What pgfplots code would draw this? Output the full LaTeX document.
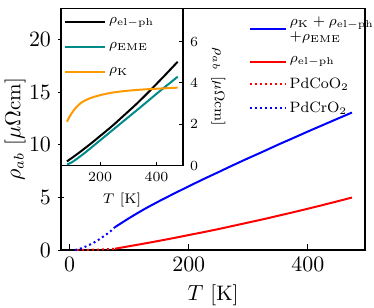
\documentclass[border=0pt]{standalone}
\usepackage{pgfplots}
\pgfplotsset{compat=1.18}
\definecolor{tealc}{RGB}{0,139,139}
\definecolor{orngc}{RGB}{255,153,0}
\begin{document}
\begin{tikzpicture}
\path[use as bounding box] (-30.5pt,-28.5pt) rectangle (156.5pt,125pt);
\begin{axis}[
  at={(0pt,0pt)}, anchor=south west,
  scale only axis, width=152pt, height=120.85pt,
  xmin=-14.6, xmax=496, ymin=0, ymax=22.95,
  xtick={0,200,400}, ytick={0,5,10,15,20},
  xtick pos=bottom, ytick pos=left,
  xtick align=inside, ytick align=center,
  major tick length=3pt,
  tick style={black, line width=0.5pt},
  axis line style={line width=0.6pt},
  tick label style={font=\fontsize{10.5}{12}\selectfont},
  every axis x label/.style={at={(axis description cs:0.5,0)}, anchor=north, yshift=-14pt, font=\fontsize{10.5}{12}\selectfont},
  every axis y label/.style={at={(axis description cs:-0.151,0.5)}, anchor=center, rotate=90, font=\fontsize{10.5}{12}\selectfont},
  xlabel={$T$ [K]}, ylabel={$\rho_{ab}$ [$\mu\Omega$cm]},
  legend style={at={(axis description cs:0.616,0.997)}, anchor=north west, draw=none, fill=none, inner sep=0pt,
    font=\fontsize{7.5}{9}\selectfont, nodes={inner sep=1.5pt, text depth=}, row sep=2.6pt},
  legend cell align=left,
  legend image code/.code={\draw[#1] (0pt,0pt) -- (15pt,0pt); \path (15pt,0pt) -- (18pt,0pt);},
]
\addplot[blue, line width=1pt, smooth] coordinates {
(76,2.17) (100,3.03) (125,3.87) (150,4.63) (175,5.35) (200,6.05) (225,6.74) (250,7.40) (275,8.07) (300,8.72) (325,9.35) (350,10.00) (375,10.62) (400,11.25) (425,11.86) (450,12.47) (474,13.05)};
\addlegendentry{\begin{tabular}{@{}l@{}}$\rho_{\mathrm{K}}+\rho_{\mathrm{el-ph}}$\\[-1.5pt]$+\rho_{\mathrm{EME}}$\end{tabular}}
\addplot[red, line width=1pt, smooth] coordinates {
(76,0.12) (100,0.36) (125,0.61) (150,0.87) (175,1.14) (200,1.42) (225,1.70) (250,1.99) (275,2.30) (300,2.61) (325,2.92) (350,3.25) (375,3.58) (400,3.92) (425,4.27) (450,4.63) (474,4.98)};
\addlegendentry{$\rho_{\mathrm{el-ph}}$}
\addplot[red, line width=1pt, dash pattern=on 1pt off 1.5pt] coordinates {
(12,0) (20,0.005) (30,0.015) (40,0.03) (50,0.05) (60,0.075) (70,0.10) (76,0.12)};
\addlegendentry{PdCoO$_2$}
\addplot[blue, line width=1pt, dash pattern=on 1pt off 1.5pt] coordinates {
(9,0) (15,0.08) (22,0.22) (30,0.40) (38,0.62) (46,0.88) (54,1.18) (62,1.50) (70,1.85) (76,2.17)};
\addlegendentry{PdCrO$_2$}
\end{axis}
\begin{axis}[
  at={(0pt,42.25pt)}, anchor=south west,
  scale only axis, width=61pt, height=78.6pt,
  xmin=61, xmax=494, ymin=0, ymax=7.61,
  xtick={200,400}, ytick={0,2,4,6},
  xtick pos=bottom, ytick pos=right, yticklabel pos=right,
  tick align=inside, major tick length=2pt,
  tick style={black, line width=0.5pt},
  axis line style={line width=0.6pt},
  axis background/.style={fill=white},
  tick label style={font=\fontsize{7}{8}\selectfont},
  every axis x label/.style={at={(axis description cs:0.5,0)}, anchor=north, yshift=-10pt, font=\fontsize{7}{8}\selectfont},
  every axis y label/.style={at={(axis description cs:1.29,0.5)}, anchor=center, rotate=-90, font=\fontsize{7}{8}\selectfont},
  xlabel={$T$ [K]}, ylabel={$\rho_{ab}$ [$\mu\Omega$cm]},
  legend style={at={(axis description cs:0.02,0.965)}, anchor=north west, draw=none, fill=none, inner sep=0pt,
    font=\fontsize{7.5}{9}\selectfont, nodes={inner sep=1.5pt}, row sep=5pt},
  legend cell align=left,
  legend image code/.code={\draw[#1] (0pt,0pt) -- (16.5pt,0pt); \path (16.5pt,0pt) -- (20pt,0pt);},
]
\addplot[black, line width=1pt, smooth] coordinates {
(82,0.2) (100,0.37) (125,0.62) (150,0.88) (175,1.15) (200,1.43) (225,1.71) (250,2.0) (275,2.31) (300,2.62) (325,2.93) (350,3.26) (375,3.6) (400,3.95) (425,4.3) (450,4.66) (475,5.02)};
\addlegendentry{$\rho_{\mathrm{el-ph}}$}
\addplot[tealc, line width=1pt, smooth] coordinates {
(82,0.05) (90,0.09) (100,0.16) (112,0.27) (125,0.40) (150,0.66) (175,0.94) (200,1.22) (250,1.78) (300,2.34) (350,2.9) (400,3.47) (425,3.75) (450,4.02) (475,4.3)};
\addlegendentry{$\rho_{\mathrm{EME}}$}
\addplot[orngc, line width=1pt, smooth] coordinates {
(82,2.12) (90,2.33) (100,2.55) (110,2.74) (120,2.89) (130,3.01) (145,3.14) (165,3.26) (190,3.37) (235,3.51) (290,3.61) (353,3.68) (420,3.73) (475,3.77)};
\addlegendentry{$\rho_{\mathrm{K}}$}
\end{axis}
\end{tikzpicture}
\end{document}
